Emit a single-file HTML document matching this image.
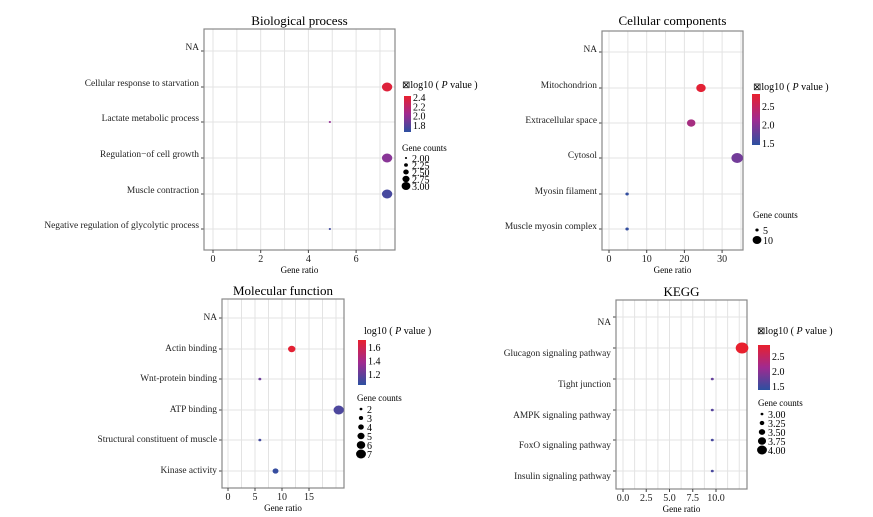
<!DOCTYPE html>
<html><head><meta charset="utf-8"><style>
body{margin:0;background:#fff;}
svg{display:block;font-family:"Liberation Serif",serif;}
</style></head><body>
<svg id="chart" width="873" height="517" viewBox="0 0 873 517" xmlns="http://www.w3.org/2000/svg"></svg>
<script>
// ---- Biological process data ----
const bpCategories = ["NA","Cellular response to starvation","Lactate metabolic process","Regulation\u2212of cell growth","Muscle contraction","Negative regulation of glycolytic process"];
const bpRatio = [null,7.3,4.9,7.3,7.3,4.9];
const bpCounts = [null,3,2,3,3,2];
const bpLogP = [null,2.45,2.1,2.05,1.8,1.78];
const bpTicks = [0,2,4,6];
const bpColorTicks = ["2.4","2.2","2.0","1.8"];
const bpSizeTicks = ["2.00","2.25","2.50","2.75","3.00"];
// ---- Cellular components data ----
const ccCategories = ["NA","Mitochondrion","Extracellular space","Cytosol","Myosin filament","Muscle myosin complex"];
const ccRatio = [null,24.4,21.8,34,4.8,4.8];
const ccCounts = [null,9,8,11,3,3];
const ccLogP = [null,2.85,2.3,1.9,1.45,1.45];
const ccTicks = [0,10,20,30];
const ccColorTicks = ["2.5","2.0","1.5"];
const ccSizeTicks = ["5","10"];
// ---- Molecular function data ----
const mfCategories = ["NA","Actin binding","Wnt-protein binding","ATP binding","Structural constituent of muscle","Kinase activity"];
const mfRatio = [null,11.8,5.9,20.5,5.9,8.8];
const mfCounts = [null,5,2,7,2,4];
const mfLogP = [null,1.68,1.25,1.15,1.12,1.08];
const mfTicks = [0,5,10,15];
const mfColorTicks = ["1.6","1.4","1.2"];
const mfSizeTicks = ["2","3","4","5","6","7"];
// ---- KEGG data ----
const kgCategories = ["NA","Glucagon signaling pathway","Tight junction","AMPK signaling pathway","FoxO signaling pathway","Insulin signaling pathway"];
const kgRatio = [null,12.8,9.6,9.6,9.6,9.6];
const kgCounts = [null,4,3,3,3,3];
const kgLogP = [null,2.9,1.8,1.7,1.6,1.6];
const kgTicks = [0,2.5,5,7.5,10];
const kgTickLabels = ["0.0","2.5","5.0","7.5","10.0"];
const kgColorTicks = ["2.5","2.0","1.5"];
const kgSizeTicks = ["3.00","3.25","3.50","3.75","4.00"];

const NS="http://www.w3.org/2000/svg";
const svg=document.getElementById('chart');
function mk(tag,attrs,parent,text){const e=document.createElementNS(NS,tag);for(const k in attrs)e.setAttribute(k,attrs[k]);if(text!==undefined)e.textContent=text;(parent||svg).appendChild(e);return e;}
function lerp(a,b,t){return a+(b-a)*t;}
function colorFor(v,lo,hi){let t=Math.max(0,Math.min(1,(v-lo)/(hi-lo)));
 const stops=[[44,80,160],[150,50,150],[232,32,46]];
 let a,b,u; if(t<0.5){a=stops[0];b=stops[1];u=t/0.5;}else{a=stops[1];b=stops[2];u=(t-0.5)/0.5;}
 return `rgb(${Math.round(lerp(a[0],b[0],u))},${Math.round(lerp(a[1],b[1],u))},${Math.round(lerp(a[2],b[2],u))})`;}
let gid=0;
function panel(p){
 const g=mk('g',{});
 
 
 const x=v=>p.x0+p.k*v;
 const t=mk('text',{x:(p.box[0]+p.box[2])/2,y:p.titleY,'text-anchor':'middle','font-size':13},g,p.title);
 
 const step=(p.ticks[1]-p.ticks[0])/2;
 for(let v=p.ticks[0]-step;x(v)<p.box[2];v+=step){ if(x(v)<=p.box[0])continue;
  const l=mk('line',{x1:x(v),x2:x(v),y1:p.box[1],y2:p.box[3],stroke:'#e3e3e3','stroke-width':1},g);
  }
 p.rows.forEach((ry,i)=>{const l=mk('line',{x1:p.box[0],x2:p.box[2],y1:ry,y2:ry,stroke:'#e3e3e3','stroke-width':1},g);
  
  const tk=mk('line',{x1:p.box[0]-3,x2:p.box[0],y1:ry,y2:ry,stroke:'#444'},g);
  
  const lb=mk('text',{x:p.box[0]-5,y:ry+3+p.labOff,'text-anchor':'end','font-size':9.4,fill:'#222'},g,p.cats[i]);
  });
 const r=mk('rect',{x:p.box[0],y:p.box[1],width:p.box[2]-p.box[0],height:p.box[3]-p.box[1],fill:'none',stroke:'#888','stroke-width':1.2},g);
 
 p.ticks.forEach((v,i)=>{const tk=mk('line',{x1:x(v),x2:x(v),y1:p.box[3],y2:p.box[3]+3,stroke:'#444'},g);
  
  const lb=mk('text',{x:x(v),y:p.box[3]+12,'text-anchor':'middle','font-size':10,fill:'#222'},g,p.tickLabels?p.tickLabels[i]:String(v));
  });
 const xt=mk('text',{x:(p.box[0]+p.box[2])/2,y:p.box[3]+23,'text-anchor':'middle','font-size':9},g,'Gene ratio');
 
 const cmin=Math.min(...p.counts.filter(c=>c!=null)),cmax=Math.max(...p.counts.filter(c=>c!=null));
 p.ratio.forEach((v,i)=>{if(v==null)return;const rad=lerp(p.rmin,p.rmax,(p.counts[i]-cmin)/(cmax-cmin||1));
  const c=mk('ellipse',{cx:x(v),cy:p.rows[i],rx:rad*1.15,ry:rad,fill:colorFor(p.logp[i],p.clo,p.chi)},g);
  });
 const L=p.leg;
 const lt=mk('text',{x:L.x,y:L.titleY,'font-size':10},g);lt.innerHTML=(p.sq?'\u22a0':'')+'log10 ( <tspan font-style="italic">P</tspan> value )';
 
 const id='grad'+(gid++);const defs=mk('defs',{},g);const lg=mk('linearGradient',{id:id,x1:0,y1:0,x2:0,y2:1},defs);
 mk('stop',{offset:'0','stop-color':'#e8202e'},lg);mk('stop',{offset:'0.5','stop-color':'#a02a90'},lg);mk('stop',{offset:'1','stop-color':'#2c50a0'},lg);
 const cb=mk('rect',{x:L.cbx,y:L.cby0,width:L.cbw,height:L.cby1-L.cby0,fill:`url(#${id})`},g);
 
 p.colorTicks.forEach((s,i)=>{const yy=L.cty[0]+(L.cty[1]-L.cty[0])*i/(p.colorTicks.length-1);
  const tx=mk('text',{x:L.cbx+L.cbw+2,y:yy+3,'font-size':10},g,s);});
 const st=mk('text',{x:L.sx,y:L.sTitleY,'font-size':9},g,'Gene counts');
 p.sizeTicks.forEach((s,i)=>{const n=p.sizeTicks.length;const yy=L.sy0+L.sdy*i;const rad=lerp(p.rmin,L.srmax||p.rmax,i/(n-1));
  const c=mk('ellipse',{cx:L.sx+4,cy:yy,rx:rad*1.1,ry:rad,fill:'#000'},g);
  const tx=mk('text',{x:L.sx+10,y:yy+4,'font-size':10},g,s);});
}
panel({name:'biological-process',title:'Biological process',titleY:25,box:[204,29,395,250],x0:213,k:23.85,ticks:bpTicks,rows:[51,87,122,158,194,229],labOff:-4,
 cats:bpCategories,ratio:bpRatio,counts:bpCounts,logp:bpLogP,clo:1.7,chi:2.5,rmin:1,rmax:4.5,colorTicks:bpColorTicks,sizeTicks:bpSizeTicks,sq:true,
 leg:{x:402,titleY:88,cbx:404,cbw:7,cby0:96,cby1:132,cty:[98,126],sx:402,sTitleY:151,sy0:158,sdy:7,srmax:4}});
panel({name:'cellular-components',title:'Cellular components',titleY:25,box:[602,31,743,250],x0:609,k:3.77,ticks:ccTicks,rows:[52,88,123,158,194,229],labOff:-3,
 cats:ccCategories,ratio:ccRatio,counts:ccCounts,logp:ccLogP,clo:1.4,chi:2.9,rmin:1.5,rmax:5,colorTicks:ccColorTicks,sizeTicks:ccSizeTicks,sq:true,
 leg:{x:753,titleY:90,cbx:752,cbw:8,cby0:94,cby1:145,cty:[107,144],sx:753,sTitleY:218,sy0:230,sdy:10,srmax:4}});
panel({name:'molecular-function',title:'Molecular function',titleY:295,box:[222,299,344,488],x0:228,k:5.4,ticks:mfTicks,rows:[318,349,379,410,440,471],labOff:-1,
 cats:mfCategories,ratio:mfRatio,counts:mfCounts,logp:mfLogP,clo:1.05,chi:1.7,rmin:1.3,rmax:4.5,colorTicks:mfColorTicks,sizeTicks:mfSizeTicks,sq:false,
 leg:{x:364,titleY:334,cbx:358,cbw:8,cby0:340,cby1:385,cty:[348,375],sx:357,sTitleY:401,sy0:409,sdy:9,srmax:4.5}});
panel({name:'kegg',title:'KEGG',titleY:296,box:[616,300,747,489],x0:623,k:9.3,ticks:kgTicks,tickLabels:kgTickLabels,rows:[317,348,379,410,440,471],labOff:5,
 cats:kgCategories,ratio:kgRatio,counts:kgCounts,logp:kgLogP,clo:1.4,chi:2.9,rmin:1.3,rmax:5.5,colorTicks:kgColorTicks,sizeTicks:kgSizeTicks,sq:true,
 leg:{x:757,titleY:334,cbx:758,cbw:12,cby0:345,cby1:390,cty:[357,387],sx:758,sTitleY:406,sy0:414,sdy:9,srmax:4.5}});
</script>
</body></html>
